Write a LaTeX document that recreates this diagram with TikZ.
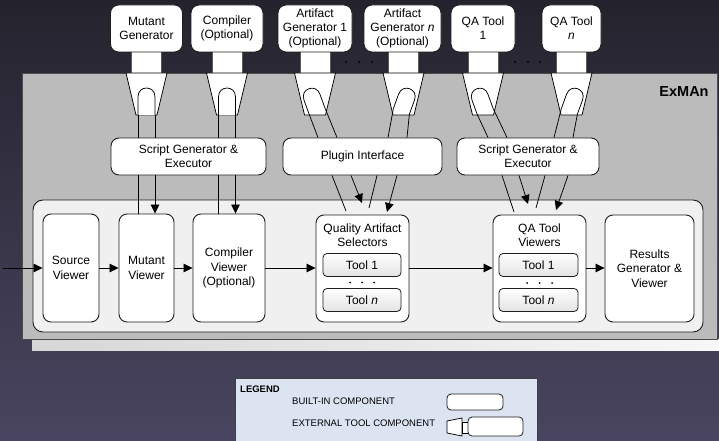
\documentclass[tikz,border=0pt]{standalone}
\usepackage{fontspec}
\setmainfont{Liberation Sans}
\usetikzlibrary{arrows.meta,calc}

\definecolor{bgtop}{HTML}{24232D}
\definecolor{bgbot}{HTML}{4A4560}
\definecolor{exgray}{HTML}{BBBBBB}
\definecolor{panel}{HTML}{F0F0F0}
\definecolor{legendfill}{HTML}{DCE4F2}
\definecolor{edge}{HTML}{1E1E1E}

\begin{document}
\begin{tikzpicture}[x=1pt,y=-1pt,
  every node/.style={font=\fontsize{12}{14.3}\selectfont},
  comp/.style={draw=edge, line width=0.9pt, fill=white, rounded corners=8pt,
    align=center, inner sep=0pt},
  subtool/.style={draw=edge, line width=0.8pt, rounded corners=4pt,
    top color=white, bottom color=gray!22, inner sep=0pt,
    minimum width=78pt, minimum height=23pt},
  wire/.style={line width=0.75pt, draw=black},
  arr/.style={wire, -{Triangle[length=9pt,width=8.5pt]}},
  plugline/.style={draw=black, line width=0.75pt, fill=white},
  txt/.style={align=center, inner sep=0pt},
  dot/.style={fill=black, circle, inner sep=0pt, minimum size=2.2pt},
  legtxt/.style={font=\fontsize{9.5}{11}\selectfont, anchor=west, inner sep=0pt},
]
\useasboundingbox (0,0) rectangle (719,441);

% backdrop
\fill[top color=bgtop, bottom color=bgbot] (0,0) rectangle (719,441);

% ExMAn frame with its lower shadow strip
\fill[left color=gray!32, right color=gray!6] (32,339.5) rectangle (719,350);
\draw[draw=gray!60!black, line width=0.8pt, fill=exgray] (22,73) rectangle (717,339.5);
\node[font=\fontsize{14.5}{16}\selectfont\bfseries, inner sep=0pt] (exman) at (684,92) {ExMAn};

% inner panel of built-in viewers
\draw[draw=edge, line width=0.9pt, fill=panel, rounded corners=10pt] (33,200) rectangle (703,332);

% stems of the external tools
\foreach \c in {146.5, 227, 315, 403.5, 483, 571.5}
  \draw[draw=gray!70!black, line width=0.5pt, fill=white] (\c-15,50) rectangle (\c+15,73);

% external tools
\node[comp, minimum width=72pt, minimum height=47pt] (mg) at (146.5,28.5) {Mutant\\Generator};
\node[comp, minimum width=72pt, minimum height=47pt] (cp) at (227,28.5) {Compiler\\(Optional)};
\node[comp, minimum width=74pt, minimum height=47pt] (ga) at (315,28.5) {Artifact\\Generator 1\\(Optional)};
\node[comp, minimum width=77pt, minimum height=47pt] (gn) at (402.5,28.5) {Artifact\\Generator \textit{n}\\(Optional)};
\node[comp, minimum width=64pt, minimum height=47pt] (qa) at (483,28.5) {QA Tool\\1};
\node[comp, minimum width=59pt, minimum height=47pt] (qn) at (571.5,28.5) {QA Tool\\\textit{n}};

% ellipses between tool groups
\foreach \x in {346,359,372,515,528,540}
  \node[dot] at (\x,62) {};

% plugs: sockets with the (possibly tilted) plug arches
\foreach \c/\a/\p/\b/\n in {146.5/0/0/15/mg, 227/0/0/15/cp, 315/20/-2/12/ga,
                            403.5/-20/2/12/gn, 483/20/-2/12/qa, 571.5/-20/2/12/qn} {
  \draw[plugline] (\c-20.5,73) -- (\c+20.5,73) -- (\c+10.5,115) -- (\c-10.5,115) -- cycle;
  \begin{scope}[shift={(\c+\p,100)}, rotate=\a]
    \draw[plugline] (-8.5,\b) -- (-8.5,-3)
      .. controls (-8.5,-9) and (-4.5,-12) .. (0,-12)
      .. controls (4.5,-12) and (8.5,-9) .. (8.5,-3) -- (8.5,\b);
    \coordinate (\n L) at (-8.5,\b);
    \coordinate (\n R) at (8.5,\b);
  \end{scope}
}

% middle layer
\node[comp, minimum width=155pt, minimum height=37pt] (sgA) at (188.5,156.5) {Script Generator \&\\Executor};
\node[comp, minimum width=159pt, minimum height=37pt] (plug) at (362.5,156.5) {Plugin Interface};
\node[comp, minimum width=142pt, minimum height=37pt] (sgB) at (528,156.5) {Script Generator \&\\Executor};

% viewers
\node[comp, minimum width=56pt, minimum height=108pt] (src) at (71,268) {Source\\Viewer};
\node[comp, minimum width=55pt, minimum height=108pt] (mut) at (146.5,268) {Mutant\\Viewer};
\node[comp, minimum width=72pt, minimum height=108pt] (cmp) at (229,268) {Compiler\\Viewer\\(Optional)};
\node[comp, minimum width=93pt, minimum height=107pt] (qas) at (362.5,268.5) {};
\node[comp, minimum width=93pt, minimum height=107pt] (qat) at (539.5,268.5) {};
\node[comp, minimum width=89pt, minimum height=107pt] (res) at (649.5,268.5) {Results\\Generator \&\\Viewer};

\node[txt] (qastitle) at (362.5,235.5) {Quality Artifact\\Selectors};
\node[subtool] (qas1) at (362,265) {Tool 1};
\node[subtool] (qasn) at (362,300) {Tool \textit{n}};
\foreach \x in {350,362,374} \node[dot, minimum size=2pt] at (\x,282.5) {};

\node[txt] (qattitle) at (539.5,235.5) {QA Tool\\Viewers};
\node[subtool, minimum width=79pt] (qat1) at (538.5,265) {Tool 1};
\node[subtool, minimum width=79pt] (qatn) at (538.5,300) {Tool \textit{n}};
\foreach \x in {527,539.5,552} \node[dot, minimum size=2pt] at (\x,283) {};

% wiring through the script generator (left)
\draw[wire] (mgL) -- (mgL |- sgA.north);
\draw[wire] (mgR) -- (mgR |- sgA.north);
\draw[wire] (cpL) -- (cpL |- sgA.north);
\draw[wire] (cpR) -- (cpR |- sgA.north);
\draw[wire] (mgL |- sgA.south) -- (mgL |- mut.north);
\draw[arr]  (mgR |- sgA.south) -- (mgR |- mut.north);
\draw[wire] (cpL |- sgA.south) -- (cpL |- cmp.north);
\draw[arr]  (cpR |- sgA.south) -- (cpR |- cmp.north);

% wiring through the plugin interface
\coordinate (ga-out) at (346,211);
\coordinate (ga-in)  at (362,203);
\coordinate (gn-out) at (369,208);
\coordinate (gn-in)  at (387,212);
\draw[wire] (gaL) -- ([xshift=-44.5pt]plug.north);
\draw[wire] (gaR) -- ([xshift=-25.5pt]plug.north);
\draw[wire] (gnL) -- ([xshift=25.5pt]plug.north);
\draw[wire] (gnR) -- ([xshift=44.5pt]plug.north);
\draw[wire] ([xshift=-30.5pt]plug.south) -- (ga-out);
\draw[arr]  ([xshift=-11.5pt]plug.south) -- (ga-in);
\draw[wire] ([xshift=14.5pt]plug.south) -- (gn-out);
\draw[arr]  ([xshift=34.5pt]plug.south) -- (gn-in);

% wiring through the script generator (right)
\coordinate (qa-out) at (514,212);
\coordinate (qa-in)  at (528,204);
\coordinate (qn-out) at (536,208);
\coordinate (qn-in)  at (556,210);
\draw[wire] (qaL) -- ([xshift=-40pt]sgB.north);
\draw[wire] (qaR) -- ([xshift=-21pt]sgB.north);
\draw[wire] (qnL) -- ([xshift=26pt]sgB.north);
\draw[wire] (qnR) -- ([xshift=45pt]sgB.north);
\draw[wire] ([xshift=-26pt]sgB.south) -- (qa-out);
\draw[arr]  ([xshift=-9pt]sgB.south) -- (qa-in);
\draw[wire] ([xshift=17pt]sgB.south) -- (qn-out);
\draw[arr]  ([xshift=40pt]sgB.south) -- (qn-in);

% main flow
\coordinate (entry) at (3,268);
\draw[arr] (entry) -- (src.west);
\draw[arr] (src.east) -- (mut.west);
\draw[arr] (mut.east) -- (cmp.west);
\draw[arr] (cmp.east) -- (qas.west |- cmp.east);
\draw[arr] (qas.east |- cmp.east) -- (qat.west |- cmp.east);
\draw[arr] (qat.east |- cmp.east) -- (res.west |- cmp.east);

% legend
\draw[draw=gray!50!black, line width=0.8pt, fill=legendfill] (235,378) rectangle (537,443);
\node[legtxt, font=\fontsize{9.5}{11}\selectfont\bfseries] (legend) at (240,389) {LEGEND};
\node[legtxt] (lgbuilt) at (292,401.5) {BUILT-IN COMPONENT};
\node[legtxt] (lgext) at (292,423.5) {EXTERNAL TOOL COMPONENT};
\node[comp, rounded corners=4pt, line width=0.8pt, minimum width=56pt, minimum height=16pt] (lgbox) at (475,402) {};
\draw[plugline] (447,421) -- (462,418) -- (462,436) -- (447,433) -- cycle;
\draw[plugline] (462,422) rectangle (468,433);
\node[comp, rounded corners=4pt, line width=0.8pt, minimum width=55pt, minimum height=19pt] (lgtool) at (495.5,426.5) {};
\end{tikzpicture}
\end{document}
